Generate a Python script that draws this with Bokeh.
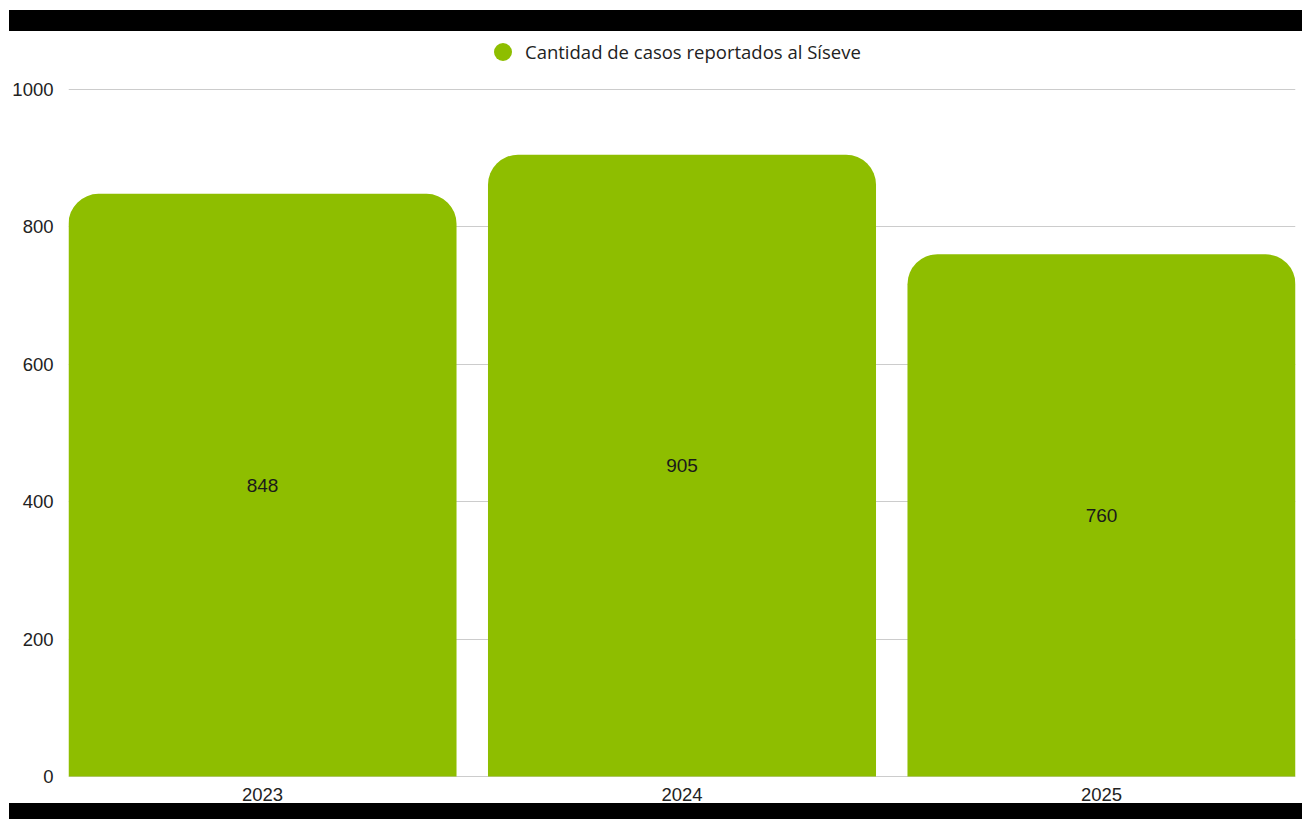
from bokeh.plotting import figure
from bokeh.models import (ColumnDataSource, FixedTicker, Legend, LegendItem, Div,
                          LabelSet, Range1d)
from bokeh.core.properties import value
from bokeh.layouts import column
from bokeh.embed import file_html
from bokeh.resources import INLINE

years = ["2023", "2024", "2025"]
cases = [848, 905, 760]
series_name = "Cantidad de casos reportados al Síseve"
y_ticks = [0, 200, 400, 600, 800, 1000]

GREEN = "#8ebe00"
xs = list(range(len(years)))
src = ColumnDataSource(dict(x=xs, top=cases, mid=[c / 2 for c in cases],
                            lbl=[str(c) for c in cases]))

W = 0.925
p = figure(width=1294, height=772, output_backend="svg", toolbar_location=None,
           x_range=Range1d(-W / 2, len(years) - 1 + W / 2),
           y_range=Range1d(-1.5, 1084.3),
           min_border_left=60, min_border_right=7, min_border_top=0,
           min_border_bottom=25, margin=(0, 0, 0, 8))
p.outline_line_color = None
p.background_fill_color = "white"
p.border_fill_color = "white"

r = p.vbar(x="x", top="top", width=W, bottom=0, source=src, fill_color=GREEN,
           line_color=None, border_radius=(30, 30, 0, 0))

labels = LabelSet(x="x", y="mid", text="lbl", source=src, text_align="center",
                  text_baseline="middle", text_font=value("Liberation Sans"),
                  text_font_size="19px", text_color="#1a1a1a")
p.add_layout(labels)

p.yaxis.ticker = FixedTicker(ticks=y_ticks)
p.xaxis.ticker = FixedTicker(ticks=xs)
p.xaxis.major_label_overrides = {i: y for i, y in enumerate(years)}
for ax in (p.xaxis, p.yaxis):
    ax.axis_line_color = None
    ax.major_tick_line_color = None
    ax.minor_tick_line_color = None
    ax.major_label_text_font = "Liberation Sans"
    ax.major_label_text_font_size = "18.5px"
    ax.major_label_text_color = "#222222"
p.yaxis.major_label_standoff = 9
p.xaxis.major_label_standoff = 4

p.xgrid.grid_line_color = None
p.ygrid.ticker = FixedTicker(ticks=y_ticks)
p.ygrid.grid_line_color = "#cccccc"
p.ygrid.grid_line_width = 1

dot = p.scatter(x=[0], y=[-1000], size=18, marker="circle", fill_color=GREEN,
                line_color=None)
legend = Legend(items=[LegendItem(label=series_name, renderers=[dot])],
                location=(412, 703), orientation="horizontal",
                label_text_font="Open Sans", label_text_font_size="18.5px",
                label_text_color="#222222", border_line_color=None,
                background_fill_alpha=0, glyph_width=45, glyph_height=45,
                padding=0, margin=0, label_standoff=-3, spacing=0)
p.add_layout(legend, "center")

top_band = Div(width=1294, height=21, styles={"background-color": "black"},
               margin=(10, 0, 0, 9))
bot_band = Div(width=1294, height=30, styles={"background-color": "black"},
               margin=(0, 0, 0, 9))
layout = column(top_band, p, bot_band, spacing=0)

open("out.html", "w").write(file_html(layout, INLINE))
